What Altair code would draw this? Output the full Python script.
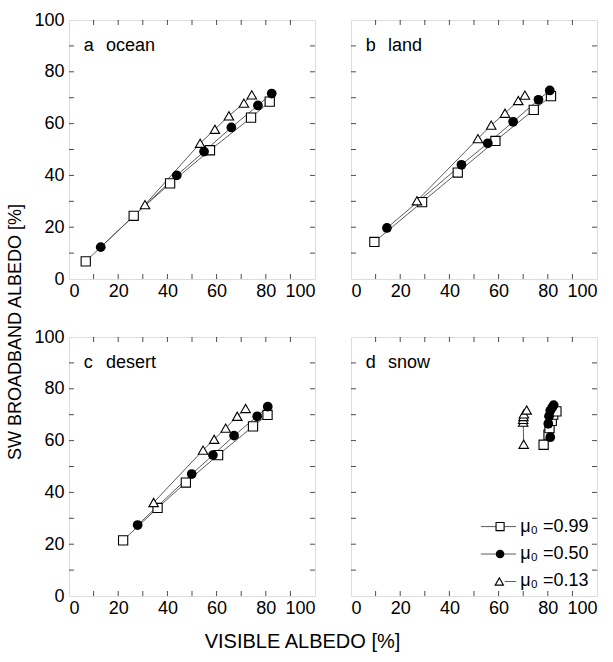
import altair as alt
import pandas as pd

FONT = "Liberation Sans"

# ---------------- data ----------------
PANEL_LETTERS = ["a", "b", "c", "d"]
PANEL_NAMES = ["ocean", "land", "desert", "snow"]
SERIES = ["0.99", "0.50", "0.13"]
LEGEND_LABELS = ["\u03bc\u2080 =0.99", "\u03bc\u2080 =0.50", "\u03bc\u2080 =0.13"]
AXIS_VALUES = [0, 20, 40, 60, 80, 100]
TICK_VALUES = [10, 20, 30, 40, 50, 60, 70, 80, 90]

# a ocean
OCEAN_SQ_X = [6.8, 26.3, 41.1, 57.3, 74.0, 81.6]
OCEAN_SQ_Y = [6.8, 24.4, 36.9, 49.7, 62.3, 68.5]
OCEAN_CI_X = [12.9, 43.8, 54.9, 66.0, 76.8, 82.4]
OCEAN_CI_Y = [12.3, 40.0, 49.2, 58.5, 67.0, 71.6]
OCEAN_TR_X = [30.9, 53.3, 59.3, 65.0, 71.1, 74.3]
OCEAN_TR_Y = [28.7, 52.4, 57.8, 63.0, 67.9, 71.1]

# b land
LAND_SQ_X = [9.5, 28.9, 43.4, 58.7, 74.3, 81.3]
LAND_SQ_Y = [14.3, 29.7, 41.1, 53.3, 65.3, 70.6]
LAND_CI_X = [14.6, 44.9, 55.6, 65.9, 76.2, 80.8]
LAND_CI_Y = [19.7, 44.1, 52.4, 60.7, 69.2, 72.8]
LAND_TR_X = [26.8, 51.6, 57.0, 62.6, 68.0, 70.7]
LAND_TR_Y = [30.2, 54.2, 59.4, 64.0, 68.9, 71.0]

# c desert
DESERT_SQ_X = [22.0, 36.0, 47.5, 60.6, 74.8, 80.7]
DESERT_SQ_Y = [21.5, 34.0, 43.8, 54.4, 65.5, 69.9]
DESERT_CI_X = [27.9, 49.9, 58.5, 67.1, 76.5, 80.8]
DESERT_CI_Y = [27.4, 47.1, 54.4, 61.9, 69.4, 73.1]
DESERT_TR_X = [34.4, 54.5, 59.0, 63.7, 68.4, 71.8]
DESERT_TR_Y = [36.1, 56.3, 60.5, 64.8, 69.4, 72.4]

# d snow
SNOW_SQ_X = [78.3, 80.3, 80.7, 81.6, 82.2, 83.5]
SNOW_SQ_Y = [58.4, 62.3, 64.8, 67.6, 70.0, 71.3]
SNOW_CI_X = [81.0, 80.2, 80.5, 81.0, 81.8, 82.4]
SNOW_CI_Y = [61.3, 66.5, 69.4, 71.5, 72.8, 73.7]
SNOW_TR_X = [70.2, 70.0, 70.0, 70.1, 70.3, 71.4]
SNOW_TR_Y = [58.6, 67.1, 68.2, 69.3, 70.3, 71.8]

PANELS = [
    (OCEAN_SQ_X, OCEAN_SQ_Y, OCEAN_CI_X, OCEAN_CI_Y, OCEAN_TR_X, OCEAN_TR_Y),
    (LAND_SQ_X, LAND_SQ_Y, LAND_CI_X, LAND_CI_Y, LAND_TR_X, LAND_TR_Y),
    (DESERT_SQ_X, DESERT_SQ_Y, DESERT_CI_X, DESERT_CI_Y, DESERT_TR_X, DESERT_TR_Y),
    (SNOW_SQ_X, SNOW_SQ_Y, SNOW_CI_X, SNOW_CI_Y, SNOW_TR_X, SNOW_TR_Y),
]

# ---------------- layout / style ----------------
W, H = 246, 259
TICK_LEN = 5
LINE_COLOR = "#4a4a4a"
MSIZE = 85

XS = alt.Scale(domain=[0, 100], nice=False, zero=False)
YS = alt.Scale(domain=[0, 100], nice=False, zero=False)


def x_axis():
    return alt.Axis(values=AXIS_VALUES, title=None, grid=False, domain=False, ticks=False,
                    labelFontSize=18, labelFont=FONT, labelColor="black", labelPadding=3,
                    labelOverlap=False)


def y_axis(show):
    if not show:
        return None
    return alt.Axis(values=AXIS_VALUES, title=None, grid=False, domain=False, ticks=False,
                    labelFontSize=18, labelFont=FONT, labelColor="black", labelPadding=5,
                    labelOverlap=False)


def make_panel(k, show_y, legend=False):
    sx, sy, cx, cy, tx, ty = PANELS[k]
    frames = []
    for xs, ys, s in ((sx, sy, SERIES[0]), (cx, cy, SERIES[1]), (tx, ty, SERIES[2])):
        frames.append(pd.DataFrame({"vis": xs, "sw": ys, "series": s, "i": list(range(len(xs)))}))
    df = pd.concat(frames, ignore_index=True)
    X = alt.X("vis:Q", scale=XS, axis=x_axis())
    Y = alt.Y("sw:Q", scale=YS, axis=y_axis(show_y))
    base = alt.Chart(df)

    lines = base.mark_line(color=LINE_COLOR, strokeWidth=0.9).encode(
        x=X, y=Y, detail="series:N", order="i:Q")
    squares = base.transform_filter(alt.datum.series == SERIES[0]).mark_point(
        shape="square", filled=True, fill="white", stroke="black", strokeWidth=1.1,
        size=MSIZE, opacity=1).encode(x=X, y=Y)
    circles = base.transform_filter(alt.datum.series == SERIES[1]).mark_point(
        shape="circle", filled=True, color="black", size=MSIZE + 10, opacity=1).encode(x=X, y=Y)
    triangles = base.transform_filter(alt.datum.series == SERIES[2]).mark_point(
        shape="triangle-up", filled=True, fill="white", stroke="black", strokeWidth=1.1,
        size=MSIZE + 5, opacity=1).encode(x=X, y=Y)

    tdf = pd.DataFrame({"v": TICK_VALUES})
    tb = alt.Chart(tdf)
    TX = alt.X("v:Q", scale=XS, axis=x_axis())
    TY = alt.Y("v:Q", scale=YS, axis=y_axis(show_y))
    ticks = [
        tb.mark_tick(color="black", thickness=1, size=TICK_LEN).encode(y=TY, x=alt.value(TICK_LEN / 2)),
        tb.mark_tick(color="black", thickness=1, size=TICK_LEN).encode(y=TY, x=alt.value(W - TICK_LEN / 2)),
        tb.mark_tick(color="black", thickness=1, size=TICK_LEN).encode(x=TX, y=alt.value(TICK_LEN / 2)),
        tb.mark_tick(color="black", thickness=1, size=TICK_LEN).encode(x=TX, y=alt.value(H - TICK_LEN / 2)),
    ]

    ldf = pd.DataFrame({"t": [PANEL_LETTERS[k], PANEL_NAMES[k]], "lx": [6.0, 15.0], "ly": [90.0, 90.0]})
    labels = alt.Chart(ldf).mark_text(align="left", baseline="middle", fontSize=18, font=FONT,
                                      color="black").encode(
        x=alt.X("lx:Q", scale=XS, axis=x_axis()), y=alt.Y("ly:Q", scale=YS, axis=y_axis(show_y)), text="t:N")

    layers = [lines, squares, circles, triangles] + ticks + [labels]

    if legend:
        rows = [26.8, 16.2, 5.6]
        seg = pd.DataFrame({
            "x1": [52.8, 52.8, 62.5],
            "x2": [67.1, 67.1, 67.1],
            "y": rows,
        })
        segs = alt.Chart(seg).mark_rule(color=LINE_COLOR, strokeWidth=0.9).encode(
            x=alt.X("x1:Q", scale=XS, axis=x_axis()), x2="x2:Q",
            y=alt.Y("y:Q", scale=YS, axis=y_axis(show_y)))
        sym = pd.DataFrame({"x": [60.6, 60.6, 60.3], "y": rows, "series": SERIES})
        symb = alt.Chart(sym)
        LX = alt.X("x:Q", scale=XS, axis=x_axis())
        LY = alt.Y("y:Q", scale=YS, axis=y_axis(show_y))
        lsq = symb.transform_filter(alt.datum.series == SERIES[0]).mark_point(
            shape="square", filled=True, fill="white", stroke="black", strokeWidth=1.1,
            size=MSIZE - 20, opacity=1).encode(x=LX, y=LY)
        lci = symb.transform_filter(alt.datum.series == SERIES[1]).mark_point(
            shape="circle", filled=True, color="black", size=MSIZE - 10, opacity=1).encode(x=LX, y=LY)
        ltr = symb.transform_filter(alt.datum.series == SERIES[2]).mark_point(
            shape="triangle-up", filled=True, fill="white", stroke="black", strokeWidth=1.1,
            size=MSIZE - 15, opacity=1).encode(x=LX, y=LY)
        txt = pd.DataFrame({"x": [68.8, 68.8, 68.8], "y": rows, "t": LEGEND_LABELS})
        ltxt = alt.Chart(txt).mark_text(align="left", baseline="middle", fontSize=18, font=FONT,
                                        color="black").encode(x=LX, y=LY, text="t:N")
        layers += [segs, lsq, lci, ltr, ltxt]

    return alt.layer(*layers).properties(width=W, height=H)


a = make_panel(0, True)
b = make_panel(1, False)
c = make_panel(2, True)
d = make_panel(3, False, legend=True)

grid = alt.vconcat(
    alt.hconcat(a, b, spacing=34),
    alt.hconcat(c, d, spacing=34),
    spacing=26,
).properties(title=alt.TitleParams("SW BROADBAND ALBEDO [%]", orient="left", anchor="middle",
                                   fontSize=18, font=FONT, fontWeight="normal", color="black",
                                   offset=8, dx=-18))

chart = alt.vconcat(grid).properties(
    title=alt.TitleParams("VISIBLE ALBEDO [%]", orient="bottom", anchor="middle",
                          fontSize=20, font=FONT, fontWeight="normal", color="black", offset=14),
    padding={"left": 7, "top": 10, "right": 0, "bottom": 10},
).configure_view(stroke="black", strokeWidth=1).configure(background="white")

chart.save("out.html", embed_options={"renderer": "svg", "actions": False})
